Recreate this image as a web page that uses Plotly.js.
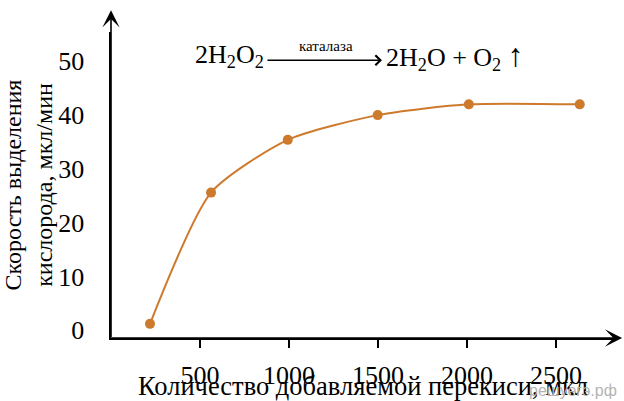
<!DOCTYPE html>
<html>
<head>
<meta charset="utf-8">
<script src="https://cdn.plot.ly/plotly-3.0.1.min.js"></script>
<style>html,body{margin:0;padding:0;background:#fff;}#chart{width:624px;height:401px;}</style>
</head>
<body>
<div id="chart"></div>
<script>
// Data
var peroxideVolume = [219, 562, 993, 1498, 2010, 2633];   // мкл
var oxygenRate = [1.2, 25.6, 35.4, 40, 42, 42];           // мкл/мин

var xTickVals = [500, 1000, 1500, 2000, 2500];
var xTickText = ['500', '1000', '1500', '2000', '2500'];
var yLabelVals = [0, 10, 20, 30, 40, 50];
var yLabelText = ['0', '10', '20', '30', '40', '50'];
var yTickMarkVals = [10, 20, 30, 40, 50];

var xTitle = 'Количество добавляемой перекиси, мкл';
var yTitle = 'Скорость выделения<br>кислорода, мкл/мин';
var eqLeft = '2H<sub>2</sub>O<sub>2</sub>';
var eqCatalyst = 'каталаза';
var eqRight = '2H<sub>2</sub>O + O<sub>2</sub> <span style="font-size:32px">↑</span>';
var watermark = 'решуегэ.рф';

var xRange = [0, 2831];
var yRange = [-1.43, 55.45];
var xArrowTip = 2871;
var yArrowTip = 59.5;

var serif = 'Liberation Serif, Times New Roman, serif';
var lineColor = '#CE7A2C';

var trace = {
  x: peroxideVolume,
  y: oxygenRate,
  type: 'scatter',
  mode: 'lines+markers',
  line: {color: lineColor, width: 2, shape: 'spline', smoothing: 0.65},
  marker: {color: lineColor, size: 10},
  cliponaxis: false,
  hoverinfo: 'skip'
};

var commonAxis = {showgrid: false, zeroline: false, fixedrange: true};

var layout = {
  width: 624, height: 401,
  margin: {l: 111, r: 9, t: 32, b: 63, pad: 0},
  paper_bgcolor: '#ffffff', plot_bgcolor: '#ffffff',
  showlegend: false,
  font: {family: serif, size: 24, color: '#000'},
  xaxis: Object.assign({}, commonAxis, {
    range: xRange,
    tickmode: 'array', tickvals: xTickVals, ticktext: xTickText,
    ticks: 'outside', ticklen: 8, tickwidth: 1.5, tickcolor: '#000',
    showline: true, linecolor: '#000', linewidth: 1.6,
    tickfont: {family: serif, size: 26, color: '#000'},
    ticklabelstandoff: 5,
    title: {text: xTitle, font: {family: serif, size: 26.5, color: '#000'}, standoff: 0}
  }),
  xaxis2: Object.assign({}, commonAxis, {
    overlaying: 'x', anchor: 'y', side: 'bottom',
    range: xRange,
    tickmode: 'array', tickvals: xTickVals,
    ticks: 'inside', ticklen: 8, tickwidth: 1.5, tickcolor: '#000',
    showticklabels: false, showline: false
  }),
  yaxis: Object.assign({}, commonAxis, {
    range: yRange,
    tickmode: 'array', tickvals: yLabelVals, ticktext: yLabelText,
    ticks: '',
    showline: true, linecolor: '#000', linewidth: 1.6,
    tickfont: {family: serif, size: 26, color: '#000'},
    ticklabelstandoff: 20,
    title: {text: yTitle, font: {family: serif, size: 24, color: '#000'}, standoff: 8}
  }),
  yaxis2: Object.assign({}, commonAxis, {
    overlaying: 'y', anchor: 'x', side: 'left',
    range: yRange,
    tickmode: 'array', tickvals: yTickMarkVals,
    ticks: 'outside', ticklen: 8, tickwidth: 1.5, tickcolor: '#000',
    showticklabels: false, showline: false
  }),
  yaxis3: Object.assign({}, commonAxis, {
    overlaying: 'y', anchor: 'x', side: 'left',
    range: yRange,
    tickmode: 'array', tickvals: yTickMarkVals,
    ticks: 'inside', ticklen: 8, tickwidth: 1.5, tickcolor: '#000',
    showticklabels: false, showline: false
  }),
  annotations: [
    // axis arrows
    {xref: 'x', yref: 'y', axref: 'x', ayref: 'y', x: xArrowTip, y: yRange[0], ax: 0, ay: yRange[0],
     text: '', showarrow: true, arrowhead: 3, arrowwidth: 1.6, arrowsize: 1.8, arrowcolor: '#000',
     font: {size: 1}, borderpad: 0},
    {xref: 'x', yref: 'y', axref: 'x', ayref: 'y', x: 0, y: yArrowTip, ax: 0, ay: yRange[0],
     text: '', showarrow: true, arrowhead: 3, arrowwidth: 1.6, arrowsize: 1.8, arrowcolor: '#000',
     font: {size: 1}, borderpad: 0},
    // equation
    {xref: 'x', yref: 'y', x: 871, y: 50.9, xanchor: 'right', yanchor: 'middle',
     text: eqLeft, showarrow: false, font: {family: serif, size: 26, color: '#000'}},
    {xref: 'x', yref: 'y', axref: 'x', ayref: 'y', x: 1522, y: 50.2, ax: 876, ay: 50.2,
     text: '', showarrow: true, arrowhead: 4, arrowwidth: 1.5, arrowsize: 1.3, arrowcolor: '#000',
     font: {size: 1}, borderpad: 0},
    {xref: 'x', yref: 'y', x: 1208, y: 52.8, xanchor: 'center', yanchor: 'middle',
     text: eqCatalyst, showarrow: false, font: {family: serif, size: 15, color: '#000'}},
    {xref: 'x', yref: 'y', x: 1534, y: 50.9, xanchor: 'left', yanchor: 'middle',
     text: eqRight, showarrow: false, font: {family: serif, size: 26, color: '#000'}},
    // watermark
    {xref: 'paper', yref: 'paper', x: 0.917, y: -0.17, xanchor: 'center', yanchor: 'middle',
     text: watermark, showarrow: false, font: {family: 'Liberation Sans, Arial, sans-serif', size: 16, color: '#b4b4b4'}}
  ]
};

Plotly.newPlot('chart', [trace], layout, {staticPlot: true, displayModeBar: false});
</script>
</body>
</html>
